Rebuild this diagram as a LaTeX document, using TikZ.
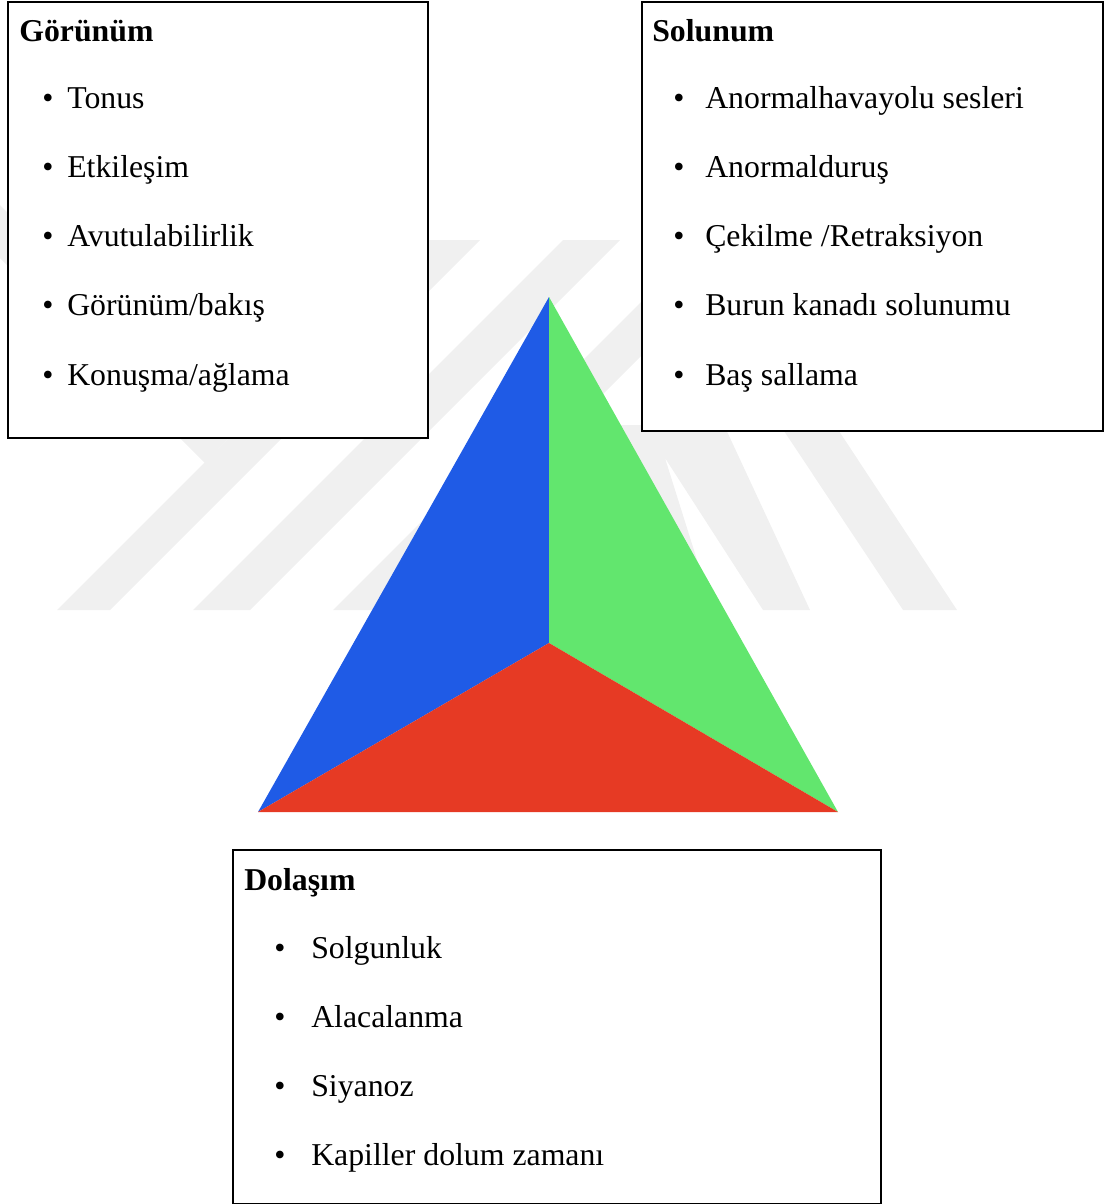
\documentclass[tikz,border=0pt]{standalone}
\usepackage{fontspec}
\setmainfont{Liberation Serif}
\definecolor{triblue}{HTML}{1F5BE6}
\definecolor{trigreen}{HTML}{62E66E}
\definecolor{trired}{HTML}{E63A24}
\newcommand\boxfont{\fontsize{22.6}{27}\selectfont}
\tikzset{box/.style={draw, fill=white, line width=1.3pt, rectangle, anchor=north west},
 wm/.style={fill=black!6},
 head/.style={anchor=base west, font=\boxfont\bfseries},
 itm/.style={anchor=base west},
 bul/.style={anchor=base}}

\begin{document}
\begin{tikzpicture}[x=0.025cm, y=-0.025cm]
\tikzstyle{every node}=[inner sep=0pt, font=\boxfont]
\useasboundingbox (0,0) rectangle (1105,1204);
% faint background stripes
\fill[wm] (57,610) -- (110,610) -- (480,240) -- (427,240) -- cycle;
\fill[wm] (0,205) -- (231,436) -- (205,463) -- (0,258) -- cycle;
\fill[wm] (193,610) -- (250,610) -- (620,240) -- (563,240) -- cycle;
\fill[wm] (333,610) -- (387,610) -- (757,240) -- (703,240) -- cycle;
\fill[wm] (600,425) -- (724,425) -- (810,610) -- (763,610) -- (665,458) -- (698,563) -- (600,563) -- cycle;
\fill[wm] (780,425) -- (835,425) -- (957,610) -- (903,610) -- cycle;
% triangle
\coordinate (apex) at (549,297);
\coordinate (bl) at (258,812);
\coordinate (br) at (838,812);
\coordinate (mid) at (549,643);
\fill[triblue] (apex) -- (mid) -- (bl) -- cycle;
\fill[trigreen] (apex) -- (br) -- (mid) -- cycle;
\fill[trired] (bl) -- (mid) -- (br) -- cycle;
% boxes
\node[box, minimum width=10.5cm, minimum height=10.9cm] (gorunum) at (7,1) {};
\node[box, minimum width=11.525cm, minimum height=10.725cm] (solunum) at (641,1) {};
\node[box, minimum width=16.2cm, minimum height=8.85cm] (dolasim) at (232,849) {};
\node[head] (gorh) at (19,41) {Görünüm};
\node[head] (solh) at (652,41) {Solunum};
\node[head] (dolh) at (244,890) {Dolaşım};
\foreach \t [count=\i] in {Tonus, Etkileşim, Avutulabilirlik, {Görünüm/bakış}, {Konuşma/ağlama}} {
  \node[bul] (gorb\i) at (48,{38.7+69.3*\i}) {\textbullet};
  \node[itm] (gori\i) at (67,{38.7+69.3*\i}) {\t};
}
\foreach \t [count=\i] in {Anormalhavayolu sesleri, Anormalduruş, {Çekilme /Retraksiyon}, Burun kanadı solunumu, Baş sallama} {
  \node[bul] (solb\i) at (679,{38.7+69.3*\i}) {\textbullet};
  \node[itm] (soli\i) at (705,{38.7+69.3*\i}) {\t};
}
\foreach \t [count=\i] in {Solgunluk, Alacalanma, Siyanoz, Kapiller dolum zamanı} {
  \node[bul] (dolb\i) at (280,{889+69*\i}) {\textbullet};
  \node[itm] (doli\i) at (311,{889+69*\i}) {\t};
}
\end{tikzpicture}
\end{document}
